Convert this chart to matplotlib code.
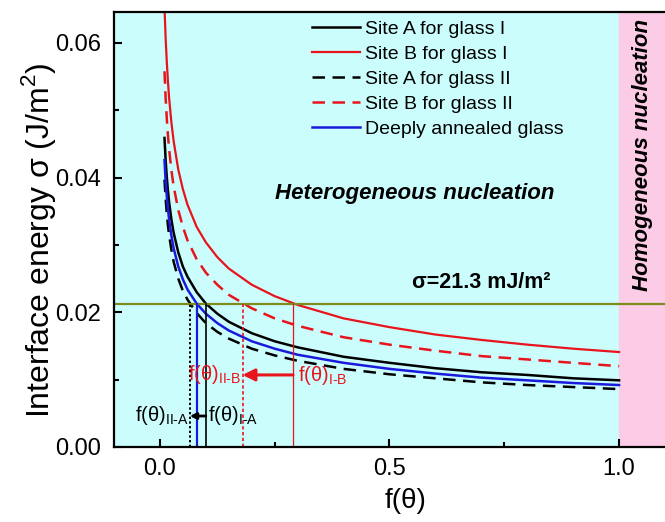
import numpy as np
import matplotlib
matplotlib.use('Agg')
import matplotlib.pyplot as plt

plt.rcParams['font.family'] = ['Liberation Sans', 'DejaVu Sans']
plt.rcParams['mathtext.fontset'] = 'custom'
plt.rcParams['mathtext.rm'] = 'Liberation Sans'
plt.rcParams['mathtext.bf'] = 'Liberation Sans:bold'

# f(theta) grid shared by all curves
f_theta = [0.01, 0.0125, 0.015, 0.0175, 0.02, 0.025, 0.03, 0.04, 0.05, 0.06, 0.08,
           0.10, 0.125, 0.15, 0.2, 0.25, 0.3, 0.4, 0.5, 0.6, 0.7, 0.8, 0.9, 1.0]

# interface energy sigma (J/m^2) for each site / glass
site_a_glass1 = [0.0459, 0.0426, 0.0401, 0.0381, 0.0364, 0.0338, 0.0318, 0.0289, 0.0268,
                 0.0253, 0.0230, 0.0213, 0.0198, 0.0186, 0.0169, 0.0157, 0.0148, 0.0134,
                 0.0125, 0.0117, 0.0111, 0.0107, 0.0102, 0.0099]
site_b_glass1 = [0.0654, 0.0607, 0.0572, 0.0543, 0.0519, 0.0482, 0.0454, 0.0412, 0.0383,
                 0.0360, 0.0327, 0.0304, 0.0282, 0.0265, 0.0241, 0.0224, 0.0211, 0.0191,
                 0.0178, 0.0167, 0.0159, 0.0152, 0.0146, 0.0141]
site_a_glass2 = [0.0397, 0.0369, 0.0347, 0.0329, 0.0315, 0.0293, 0.0275, 0.0250, 0.0232,
                 0.0219, 0.0199, 0.0184, 0.0171, 0.0161, 0.0146, 0.0136, 0.0128, 0.0116,
                 0.0108, 0.0102, 0.0096, 0.0092, 0.0089, 0.0086]
site_b_glass2 = [0.0558, 0.0518, 0.0488, 0.0463, 0.0443, 0.0411, 0.0387, 0.0352, 0.0327,
                 0.0307, 0.0279, 0.0259, 0.0241, 0.0226, 0.0206, 0.0191, 0.0180, 0.0163,
                 0.0152, 0.0143, 0.0135, 0.0130, 0.0125, 0.0120]
annealed = [0.0426, 0.0395, 0.0372, 0.0354, 0.0338, 0.0314, 0.0295, 0.0268, 0.0249,
            0.0234, 0.0213, 0.0198, 0.0184, 0.0173, 0.0157, 0.0146, 0.0137, 0.0125,
            0.0116, 0.0109, 0.0103, 0.0099, 0.0095, 0.0092]

sigma_c = 0.0213
# f(theta) where each curve crosses sigma_c
f_IIA, f_ann, f_IA, f_IIB, f_IB = 0.065, 0.080, 0.100, 0.18, 0.29

RED = '#e8141c'
BLUE = '#1a1adc'

fig = plt.figure(figsize=(6.65, 5.22), dpi=100)
ax = fig.add_axes([0.1714, 0.1437, 0.8286, 0.8333])
ax.set_xlim(-0.1, 1.1)
ax.set_ylim(0, 0.0646)

ax.set_facecolor('#ccfdfd')
ax.axvspan(1.0, 1.1, color='#fccbe5', zorder=0)

ax.plot(f_theta, site_a_glass1, color='black', lw=1.8, label='Site A for glass I')
ax.plot(f_theta, site_b_glass1, color=RED, lw=1.6, label='Site B for glass I')
ax.plot(f_theta, site_a_glass2, color='black', lw=1.8, ls=(0, (5, 3)), label='Site A for glass II')
ax.plot(f_theta, site_b_glass2, color=RED, lw=1.8, ls=(0, (5, 3)), label='Site B for glass II')
ax.plot(f_theta, annealed, color=BLUE, lw=1.8, label='Deeply annealed glass')

ax.axhline(sigma_c, color='#7d8c1c', lw=1.6)

# drop lines from the crossing points
ax.plot([f_IIA, f_IIA], [0, sigma_c], color='black', lw=1.4, ls=(0, (1.2, 1.2)))
ax.plot([f_ann, f_ann], [0, sigma_c], color=BLUE, lw=1.6)
ax.plot([f_IA, f_IA], [0, sigma_c], color='black', lw=1.2)
ax.plot([f_IIB, f_IIB], [0, sigma_c], color=RED, lw=1.2, ls=(0, (2, 1.5)))
ax.plot([f_IB, f_IB], [0, sigma_c], color=RED, lw=0.9)

ax.annotate('', xy=(f_IIB, 0.0107), xytext=(f_IB, 0.0107),
            arrowprops=dict(arrowstyle='-|>', color=RED, lw=2.2,
                            mutation_scale=18, shrinkA=0, shrinkB=0))
ax.annotate('', xy=(f_IIA, 0.0046), xytext=(f_IA, 0.0046),
            arrowprops=dict(arrowstyle='-|>', color='black', lw=2,
                            mutation_scale=9, shrinkA=0, shrinkB=0))

ax.text(f_IIB - 0.003, 0.0108, r'f(θ)$_{\mathrm{II\text{-}B}}$', color=RED,
        fontsize=14.5, ha='right', va='center')
ax.text(f_IB + 0.01, 0.0106, r'f(θ)$_{\mathrm{I\text{-}B}}$', color=RED,
        fontsize=14.5, ha='left', va='center')
ax.text(f_IIA - 0.002, 0.0047, r'f(θ)$_{\mathrm{II\text{-}A}}$', color='black',
        fontsize=14.5, ha='right', va='center')
ax.text(f_IA + 0.004, 0.0047, r'f(θ)$_{\mathrm{I\text{-}A}}$', color='black',
        fontsize=14.5, ha='left', va='center')

ax.text(0.70, 0.0245, 'σ=21.3 mJ/m²', fontsize=15.5, fontweight='bold',
        ha='center', va='center')
ax.text(0.555, 0.0377, 'Heterogeneous nucleation', fontsize=16, fontweight='bold',
        fontstyle='italic', ha='center', va='center')
ax.text(1.05, 0.0434, 'Homogeneous nucleation', fontsize=16, fontweight='bold',
        fontstyle='italic', ha='center', va='center', rotation=90)

leg = ax.legend(loc='upper left', bbox_to_anchor=(0.352, 0.99), frameon=False, fontsize=14,
                handlelength=2.5, handletextpad=0.25, labelspacing=0.38, borderaxespad=0.1,
                borderpad=0.1)

ax.set_xticks([0.0, 0.5, 1.0])
ax.set_xticks([0.25, 0.75], minor=True)
ax.set_yticks([0.0, 0.02, 0.04, 0.06])
ax.set_yticks([0.01, 0.03, 0.05], minor=True)
ax.yaxis.set_major_formatter(matplotlib.ticker.FormatStrFormatter('%.2f'))
ax.xaxis.set_major_formatter(matplotlib.ticker.FormatStrFormatter('%.1f'))
ax.tick_params(which='both', direction='in', width=1.5, labelsize=17)
ax.tick_params(which='major', length=6)
ax.tick_params(which='minor', length=3.5)
ax.tick_params(axis='y', pad=9)
ax.tick_params(axis='x', pad=8)

for side in ['left', 'bottom', 'top']:
    ax.spines[side].set_linewidth(1.6)
ax.spines['right'].set_visible(False)

ax.set_ylabel(r'Interface energy σ (J/m$^2$)', fontsize=23)
ax.yaxis.set_label_coords(-0.102, 0.476)
ax.set_xlabel('f(θ)', fontsize=20)
ax.xaxis.set_label_coords(0.53, -0.095)

fig.savefig('out.png', dpi=100)
